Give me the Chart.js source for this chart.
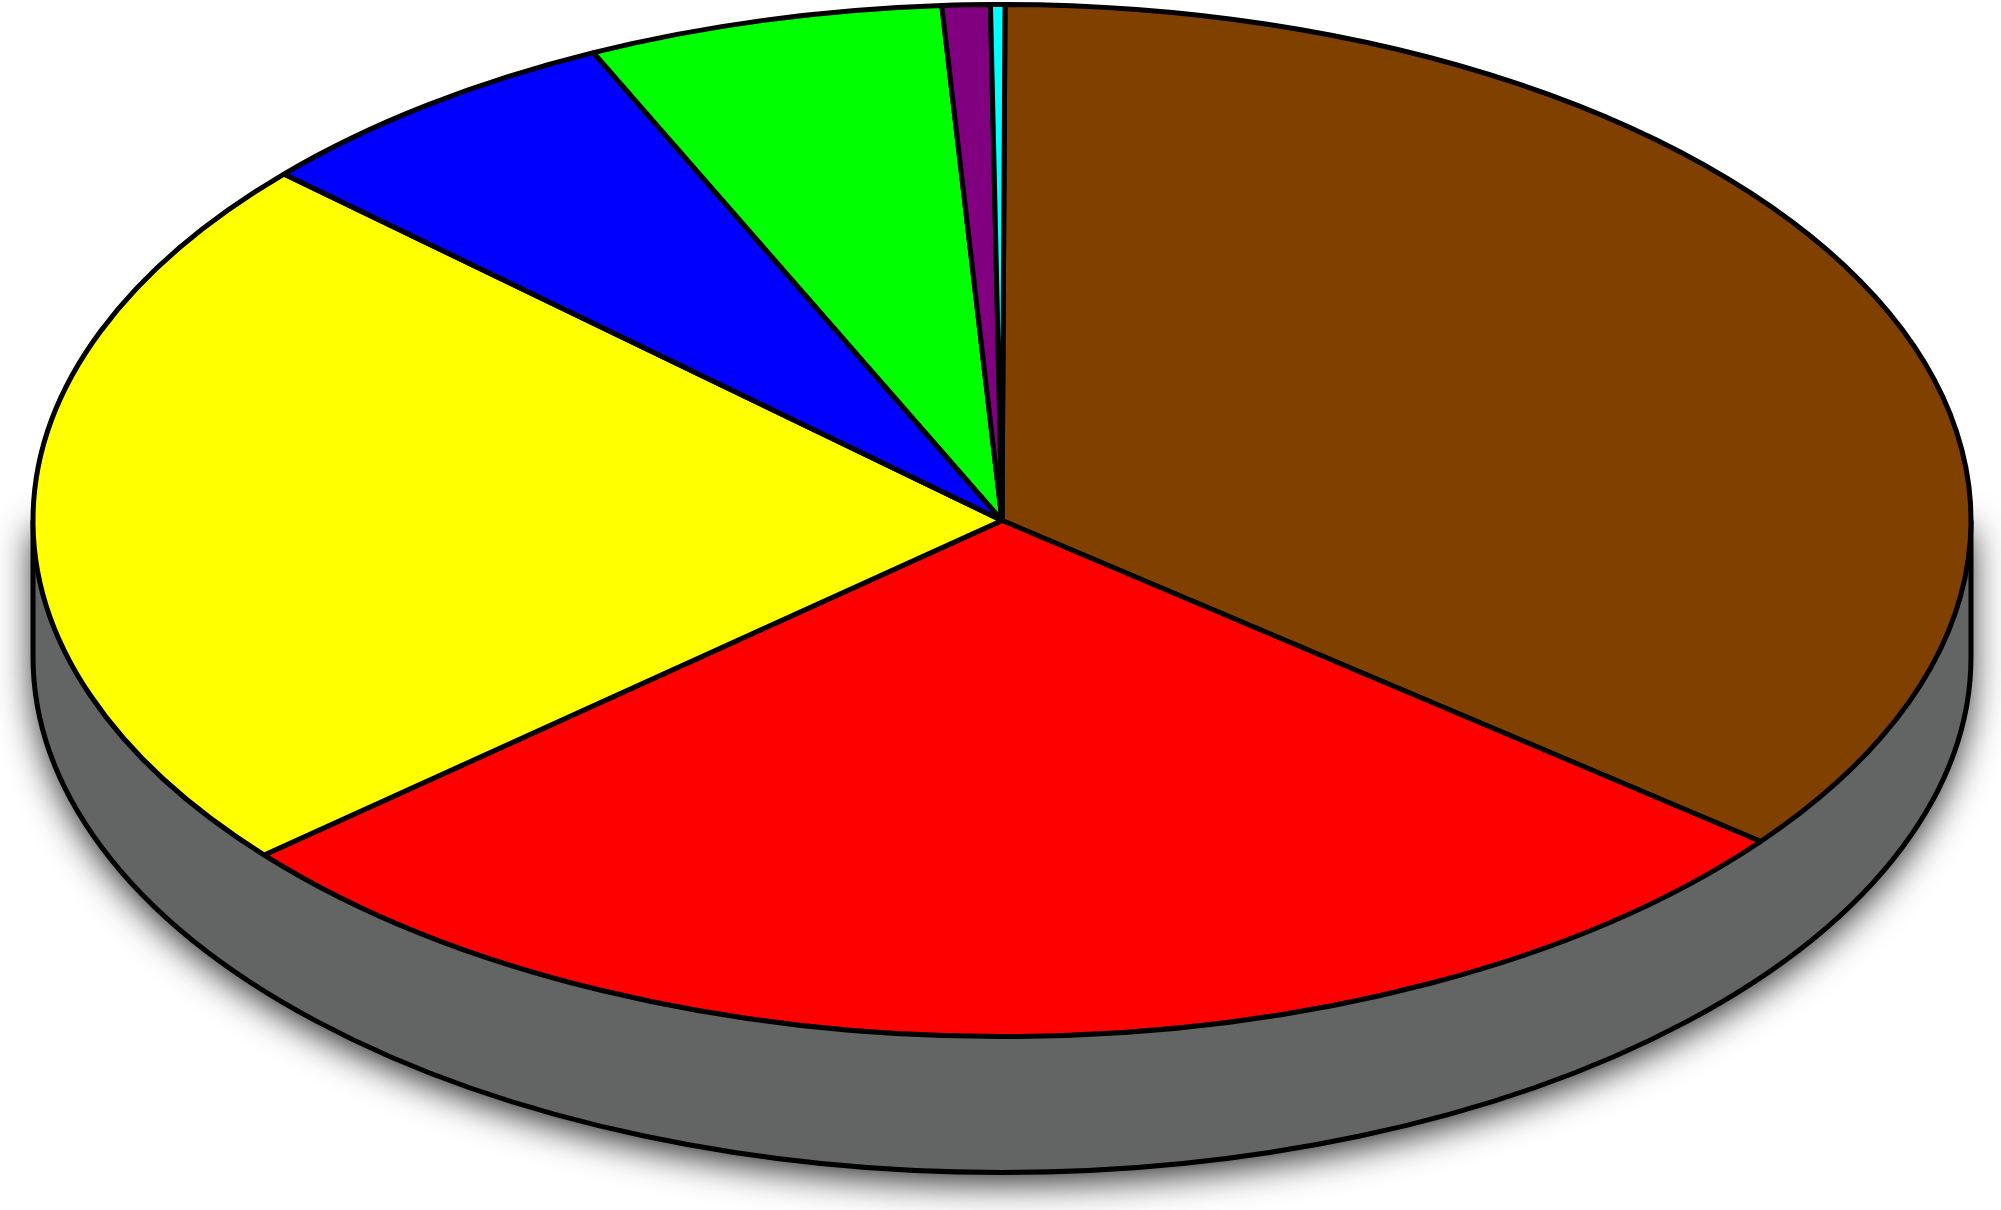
<!DOCTYPE html>
<html>
<head>
<meta charset="utf-8">
<style>
html,body{margin:0;padding:0;background:#fff;overflow:hidden}
canvas{display:block}
</style>
<script src="https://cdn.jsdelivr.net/npm/chart.js@4/dist/chart.umd.min.js"></script>
</head>
<body>
<canvas id="c" width="2001" height="1210"></canvas>
<script>
const categories = ["Brown","Red","Yellow","Blue","Green","Purple","Cyan"];
const values = [35.65,28.1,22.95,6.36,5.94,0.8,0.24];
const sliceColors = ["#804000","#ff0000","#ffff00","#0000ff","#00ff00","#800080","#00ffff"];
const startAngle = 0.18;
const tilt = {cx:1002, cy:520.5, rx:969, ry:516, depth:136};
const sideColor = "#636564";
const edgeWidth = 5;

const tiltPlugin = {
  id:"tilt",
  beforeDatasetsDraw(chart){
    const ctx = chart.ctx, t = tilt;
    // extruded side wall with soft shadow
    ctx.save();
    ctx.beginPath();
    ctx.moveTo(t.cx-t.rx,t.cy);
    ctx.lineTo(t.cx-t.rx,t.cy+t.depth);
    ctx.ellipse(t.cx,t.cy+t.depth,t.rx,t.ry,0,Math.PI,0,true);
    ctx.lineTo(t.cx+t.rx,t.cy);
    ctx.closePath();
    ctx.fillStyle = sideColor;
    ctx.shadowColor = "rgba(0,0,0,0.85)";
    ctx.shadowBlur = 36;
    ctx.shadowOffsetY = 10;
    ctx.fill();
    ctx.shadowColor = "transparent";
    ctx.beginPath();
    ctx.moveTo(t.cx-t.rx,t.cy);
    ctx.lineTo(t.cx-t.rx,t.cy+t.depth);
    ctx.ellipse(t.cx,t.cy+t.depth,t.rx,t.ry,0,Math.PI,0,true);
    ctx.lineTo(t.cx+t.rx,t.cy);
    ctx.strokeStyle = "#000";
    ctx.lineWidth = edgeWidth;
    ctx.stroke();
    ctx.restore();

    // tilt the library's arcs; stroke in untransformed space for an even line width
    const arc = chart.getDatasetMeta(0).data[0];
    const base = ctx.getTransform();
    ctx.save();
    ctx.translate(t.cx,t.cy);
    ctx.scale(t.rx/arc.outerRadius,t.ry/arc.outerRadius);
    ctx.translate(-arc.x,-arc.y);
    ctx.stroke = function(){
      CanvasRenderingContext2D.prototype.save.call(ctx);
      ctx.setTransform(base);
      CanvasRenderingContext2D.prototype.stroke.call(ctx);
      CanvasRenderingContext2D.prototype.restore.call(ctx);
    };
  },
  afterDatasetsDraw(chart){
    const ctx = chart.ctx;
    delete ctx.stroke;
    ctx.restore();
  }
};

new Chart(document.getElementById("c"),{
  type:"pie",
  data:{labels:categories,datasets:[{
    data:values,
    backgroundColor:sliceColors,
    borderColor:"#000",
    borderWidth:edgeWidth
  }]},
  options:{
    responsive:false,
    animation:false,
    devicePixelRatio:1,
    rotation:startAngle,
    layout:{padding:0},
    plugins:{legend:{display:false},tooltip:{enabled:false},title:{display:false}}
  },
  plugins:[tiltPlugin]
});
</script>
</body>
</html>
